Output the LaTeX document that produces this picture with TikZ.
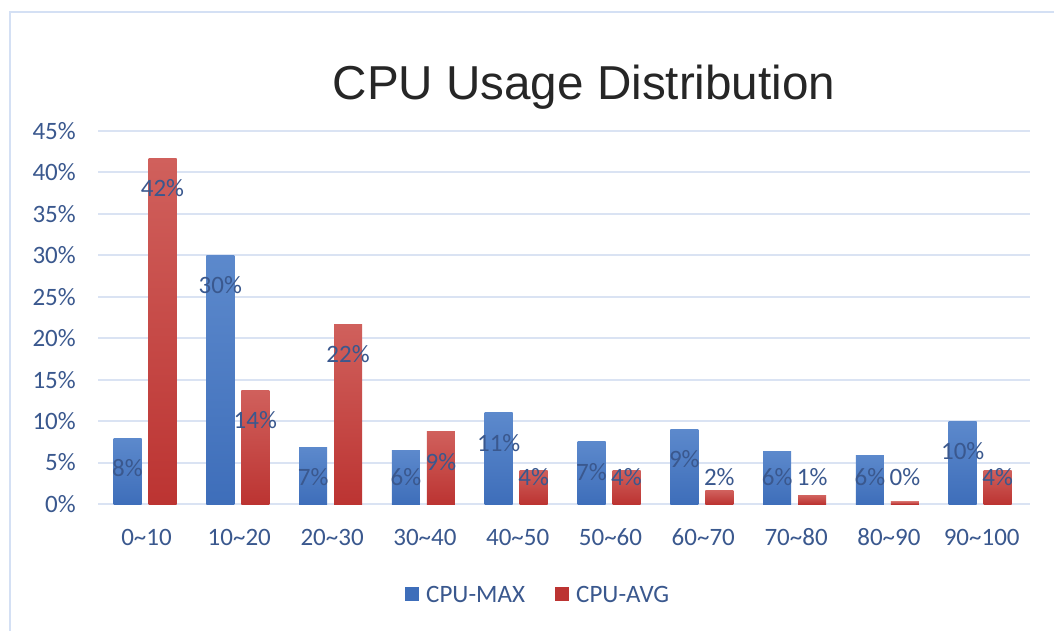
\documentclass[tikz,border=0pt]{standalone}
\usepackage{fontspec}
\setmainfont{Carlito}
\newfontfamily\titlefont{Liberation Sans}
\usetikzlibrary{positioning}
\definecolor{axisblue}{RGB}{58,88,142}
\definecolor{gridblue}{RGB}{218,227,243}
\definecolor{frameblue}{RGB}{212,224,244}
\definecolor{maxtop}{RGB}{92,137,204}
\definecolor{maxbot}{RGB}{62,110,186}
\definecolor{avgtop}{RGB}{208,96,92}
\definecolor{avgbot}{RGB}{188,52,50}

\begin{document}
\begin{tikzpicture}[x=0.75pt, y=-0.75pt,
    font=\fontsize{18.75}{22}\selectfont,
    every node/.style={text=axisblue, inner sep=0pt},
    grid/.style={gridblue, line width=1.5pt},
    maxbar/.style={top color=maxtop, bottom color=maxbot},
    avgbar/.style={top color=avgtop, bottom color=avgbot}]
    \useasboundingbox (0,0) rectangle (1054,631);
    \fill[white] (0,0) rectangle (1054,631);
    \draw[frameblue, line width=2.2pt] (10,631) -- (10,12) -- (1054,12);

    % title
    \node[anchor=base, text=black!85, font=\titlefont\fontsize{35.7}{40}\selectfont] (title) at (584,100) {CPU Usage Distribution};

    % value axis
    \foreach \k in {0,...,9} {
        \pgfmathtruncatemacro\pct{5*\k}
        \draw[grid] (98,{504-41.45*\k}) -- (1030,{504-41.45*\k});
        \node[anchor=east] (tick\k) at (76,{504-41.45*\k}) {\pct\%};
    }

    % bars, labels
    \foreach \i/\m/\mt/\a/\at/\cat in {0/7.9/8/41.7/42/0\textasciitilde10, 1/30.0/30/13.7/14/10\textasciitilde20,
        2/6.8/7/21.7/22/20\textasciitilde30, 3/6.4/6/8.7/9/30\textasciitilde40, 4/11.0/11/4.0/4/40\textasciitilde50,
        5/7.5/7/4.1/4/50\textasciitilde60, 6/9.0/9/1.6/2/60\textasciitilde70, 7/6.3/6/1.0/1/70\textasciitilde80,
        8/5.9/6/0.25/0/80\textasciitilde90, 9/10.0/10/4.0/4/90\textasciitilde100} {
        \pgfmathsetmacro\cx{146.5+92.8*\i}
        \pgfmathsetmacro\ym{504-8.29*\m}
        \pgfmathsetmacro\ya{504-8.29*\a}
        \pgfmathsetmacro\lm{min(\ym+30,477)}
        \pgfmathsetmacro\la{min(\ya+30,477)}
        \path[maxbar] (\cx-33,504) rectangle (\cx-5,\ym);
        \path[avgbar] (\cx+2,504) rectangle (\cx+30,\ya);
        \node (max\i) at (\cx-19,\lm) {\mt\%};
        \node (avg\i) at (\cx+16,\la) {\at\%};
        \node (cat\i) at (\cx,537) {\cat};
    }

    % legend
    \node[fill=maxbot, minimum size=10.5pt] (legmax) at (412,594) {};
    \node[right=5pt of legmax] (legmaxtxt) {CPU-MAX};
    \node[fill=avgbot, minimum size=10.5pt] (legavg) at (562,594) {};
    \node[right=5pt of legavg] (legavgtxt) {CPU-AVG};
\end{tikzpicture}
\end{document}
